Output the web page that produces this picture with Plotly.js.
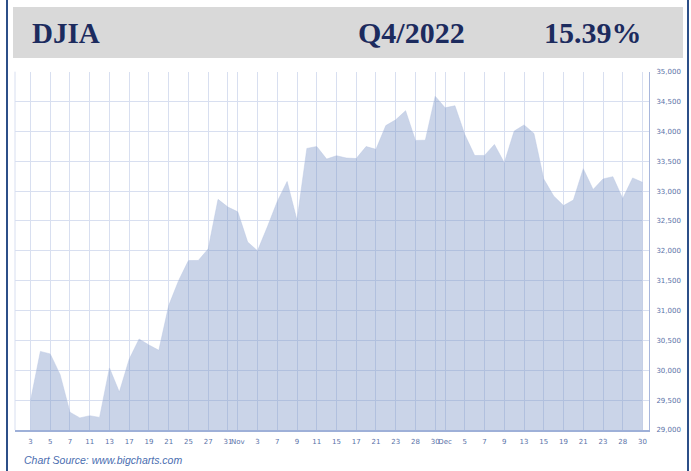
<!DOCTYPE html>
<html>
<head>
<meta charset="utf-8">
<script src="https://cdn.plot.ly/plotly-3.0.1.min.js"></script>
<style>
  html, body { margin: 0; padding: 0; background: #ffffff; }
  #chart { width: 691px; height: 471px; }
</style>
</head>
<body>
<div id="chart"></div>
<script>
// DJIA daily closes, Q4 2022 (one value per trading day, Oct 3 .. Dec 30)
const closes = [
  29491, 30316, 30274, 29927, 29297, 29203, 29239, 29211, 30039, 29635,
  30186, 30524, 30424, 30334, 31083, 31500, 31837, 31839, 32033, 32862,
  32733, 32653, 32148, 32001, 32403, 32827, 33161, 32514, 33715, 33748,
  33537, 33593, 33554, 33546, 33746, 33700, 34098, 34194, 34347, 33849,
  33853, 34590, 34395, 34430, 33947, 33596, 33598, 33781, 33476, 34005,
  34109, 33966, 33202, 32920, 32758, 32850, 33376, 33027, 33204, 33242,
  32876, 33221, 33147
];
// positions (trading-day index) of the labelled ticks and their texts
const tickIdx = [0, 2, 4, 6, 8, 10, 12, 14, 16, 18, 20, 21, 23, 25, 27, 29, 31, 33, 35, 37, 39, 41, 42,
                 44, 46, 48, 50, 52, 54, 56, 58, 60, 62];
const tickText = ['3', '5', '7', '11', '13', '17', '19', '21', '25', '27', '31', 'Nov', '3', '7', '9', '11',
                  '15', '17', '21', '23', '28', '30', 'Dec', '5', '7', '9', '13', '15', '19', '21', '23', '28', '30'];
const yTicks = [29000, 29500, 30000, 30500, 31000, 31500, 32000, 32500, 33000, 33500, 34000, 34500, 35000];
const headerLeft = 'DJIA';
const headerMid = 'Q4/2022';
const headerRight = '15.39%';
const sourceText = 'Chart Source: www.bigcharts.com';

const xIdx = closes.map((_, i) => i);

const W = 691, H = 471;
const px = v => v / W;
const py = v => (H - v) / H;

const trace = {
  x: xIdx,
  y: closes,
  type: 'scatter',
  mode: 'lines',
  fill: 'tozeroy',
  fillcolor: 'rgba(112,137,192,0.37)',
  line: { color: 'rgba(185,198,226,0.9)', width: 0.5 },
  hoverinfo: 'skip'
};

const tickFont = { family: 'DejaVu Sans', size: 7, color: '#5a72a8' };
const gridColor = '#d8dff0';

const layout = {
  width: W,
  height: H,
  margin: { l: 0, r: 0, t: 0, b: 0 },
  paper_bgcolor: '#ffffff',
  plot_bgcolor: '#ffffff',
  showlegend: false,
  xaxis: {
    domain: [px(15), px(649)],
    range: [-1.57, 62.66],
    tickmode: 'array',
    tickvals: tickIdx,
    ticktext: tickText,
    tickfont: tickFont,
    tickangle: 0,
    ticks: '',
    showgrid: true,
    gridcolor: gridColor,
    gridwidth: 1,
    zeroline: false,
    showline: true,
    linecolor: '#9eb0d8',
    linewidth: 1.5,
    ticklabelstandoff: 4,
    fixedrange: true
  },
  yaxis: {
    domain: [py(430), py(71.7)],
    range: [29000, 35000],
    side: 'right',
    tickmode: 'array',
    tickvals: yTicks,
    ticktext: yTicks.map(v => v.toLocaleString('en-US')),
    tickfont: tickFont,
    ticks: '',
    showgrid: true,
    gridcolor: gridColor,
    gridwidth: 1,
    zeroline: false,
    showline: true,
    linecolor: '#a8b7dc',
    linewidth: 1,
    ticklabelstandoff: 5,
    fixedrange: true
  },
  shapes: [
    // header band
    { type: 'rect', xref: 'paper', yref: 'paper', x0: px(13), x1: px(683), y0: py(58), y1: py(7),
      fillcolor: '#d9d9d9', line: { width: 0 }, layer: 'below' },
    // left plot edge
    { type: 'line', xref: 'paper', yref: 'paper', x0: px(15), x1: px(15), y0: py(430), y1: py(71.7),
      line: { color: gridColor, width: 1 } },
    // page borders
    { type: 'line', xref: 'paper', yref: 'paper', x0: px(7), x1: px(7), y0: 0, y1: 1,
      line: { color: '#2c4f88', width: 2 } },
    { type: 'line', xref: 'paper', yref: 'paper', x0: px(688), x1: px(688), y0: 0, y1: 1,
      line: { color: '#2c4f88', width: 2 } }
  ],
  annotations: [
    { text: '<b>' + headerLeft + '</b>', xref: 'paper', yref: 'paper', x: px(30), y: py(33), xanchor: 'left', yanchor: 'middle',
      showarrow: false, font: { family: 'Liberation Serif', size: 29, color: '#1c2b5e' } },
    { text: '<b>' + headerMid + '</b>', xref: 'paper', yref: 'paper', x: px(356), y: py(33), xanchor: 'left', yanchor: 'middle',
      showarrow: false, font: { family: 'Liberation Serif', size: 30, color: '#1c2b5e' } },
    { text: '<b>' + headerRight + '</b>', xref: 'paper', yref: 'paper', x: px(542), y: py(33), xanchor: 'left', yanchor: 'middle',
      showarrow: false, font: { family: 'Liberation Serif', size: 30, color: '#1c2b5e' } },
    { text: '<i>' + sourceText + '</i>', xref: 'paper', yref: 'paper', x: px(22), y: py(460), xanchor: 'left',
      yanchor: 'middle', showarrow: false, font: { family: 'Liberation Sans', size: 10.5, color: '#4a6db0' } }
  ]
};

Plotly.newPlot('chart', [trace], layout, { displayModeBar: false, staticPlot: true });
</script>
</body>
</html>
